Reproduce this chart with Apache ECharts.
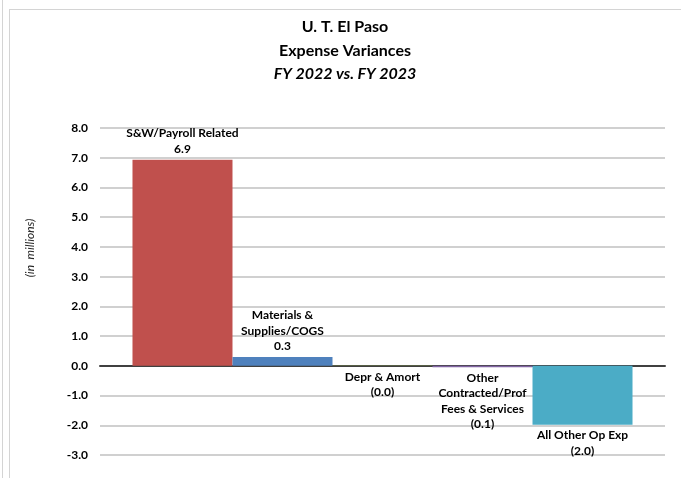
<!DOCTYPE html>
<html>
<head>
<meta charset="utf-8">
<script src="https://cdn.jsdelivr.net/npm/echarts@6/dist/echarts.min.js"></script>
<style>html,body{margin:0;padding:0;background:#fff}#c{width:681px;height:478px}</style>
</head>
<body>
<div id="c"></div>
<script>
const categories = ['S&W/Payroll Related', 'Materials &\nSupplies/COGS', 'Depr & Amort', 'Other\nContracted/Prof\nFees & Services', 'All Other Op Exp'];
const values = [6.93, 0.3, -0.01, -0.05, -1.98];
const colors = ['#C0504D', '#4F81BD', '#9BBB59', '#8064A2', '#4BACC6'];
const titleLines = ['U. T. El Paso', 'Expense Variances', 'FY 2022 vs. FY 2023'];
const yTicks = { min: -3, max: 8, interval: 1 };

const FONT = 'Lato, "Liberation Sans", sans-serif';
function fmt(v) {
  const s = Math.abs(v).toFixed(1);
  return v < 0 ? '(' + s + ')' : s;
}

const series = categories.map((name, i) => ({
  name: name,
  type: 'bar',
  data: [values[i]],
  barGap: '0%',
  barCategoryGap: '11.5%',
  itemStyle: { color: colors[i] },
  label: {
    show: true,
    position: values[i] >= 0 ? 'top' : 'bottom',
    distance: 3,
    formatter: () => name + '\n' + fmt(values[i]),
    fontFamily: FONT,
    fontWeight: 'bold',
    fontSize: 12,
    lineHeight: 15.5,
    color: '#000',
    align: 'center'
  }
}));

const chart = echarts.init(document.getElementById('c'), null, { renderer: 'canvas' });
chart.setOption({
  animation: false,
  backgroundColor: '#fff',
  grid: { left: 100, right: 16, top: 128, bottom: 23, containLabel: false },
  xAxis: {
    type: 'category',
    data: [''],
    axisTick: { show: false },
    axisLabel: { show: false },
    axisLine: { show: true, onZero: true, lineStyle: { color: '#404040', width: 2 } },
    splitLine: { show: false }
  },
  yAxis: {
    type: 'value',
    min: yTicks.min,
    max: yTicks.max,
    interval: yTicks.interval,
    axisLine: { show: false },
    axisTick: { show: false },
    axisLabel: {
      formatter: v => v.toFixed(1),
      fontFamily: FONT,
      fontWeight: 'bold',
      fontSize: 12,
      color: '#000',
      margin: 12
    },
    splitLine: { show: true, lineStyle: { color: '#c0c0c0', width: 1.5 } }
  },
  series: series,
  graphic: [
    { type: 'line', shape: { x1: 2.5, y1: 0, x2: 2.5, y2: 478 }, style: { stroke: '#d4d4d4', lineWidth: 1 } },
    { type: 'line', shape: { x1: 9.5, y1: 9, x2: 9.5, y2: 478 }, style: { stroke: '#d4d4d4', lineWidth: 1 } },
    { type: 'line', shape: { x1: 9, y1: 9.5, x2: 681, y2: 9.5 }, style: { stroke: '#d4d4d4', lineWidth: 1 } },
    { type: 'text', x: 345, y: 27, style: { text: titleLines[0], font: 'bold 16px ' + FONT, fill: '#000', textAlign: 'center', textVerticalAlign: 'middle' } },
    { type: 'text', x: 345, y: 51, style: { text: titleLines[1], font: 'bold 16px ' + FONT, fill: '#000', textAlign: 'center', textVerticalAlign: 'middle' } },
    { type: 'text', x: 345, y: 74, style: { text: titleLines[2], font: 'italic bold 16px ' + FONT, fill: '#000', textAlign: 'center', textVerticalAlign: 'middle' } },
    { type: 'text', x: 30, y: 248, rotation: Math.PI / 2, style: { text: '(in  millions)', font: 'italic 12px ' + FONT, fill: '#262626', textAlign: 'center', textVerticalAlign: 'middle' } }
  ]
});
</script>
</body>
</html>
